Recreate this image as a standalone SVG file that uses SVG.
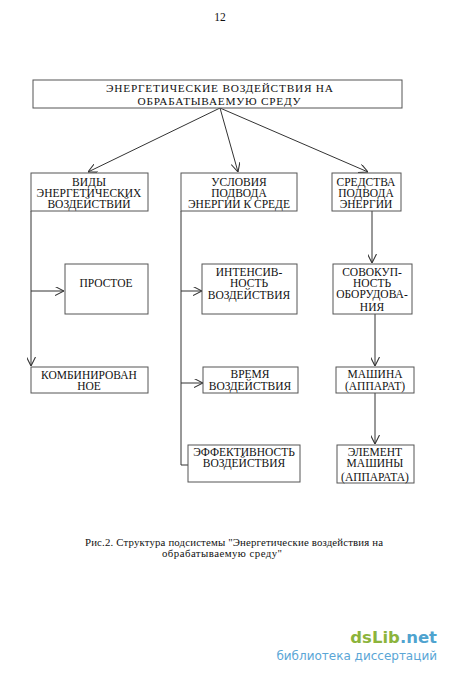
<svg xmlns="http://www.w3.org/2000/svg" width="450" height="675" viewBox="0 0 450 675">
<style>
.b{fill:#fff;stroke:#555;stroke-width:1}
.t{font-family:"Liberation Serif","Times New Roman",serif;font-size:11.5px;fill:#111;text-anchor:middle}
.h{font-size:11.3px}
.c{stroke:#333;stroke-width:1;fill:none}
.cap{font-family:"Liberation Serif","Times New Roman",serif;font-size:10.8px;fill:#111}
</style>
<defs>
<marker id="a" viewBox="0 0 10 10" refX="10" refY="5" markerWidth="9" markerHeight="9" orient="auto" markerUnits="userSpaceOnUse">
<path d="M0,0 L10,5 L0,10" fill="none" stroke="#333" stroke-width="1.2"/>
</marker>
</defs>
<rect width="450" height="675" fill="#fff"/>
<text class="t" x="220" y="21">12</text>
<g id="connectors">
<line class="c" x1="220" y1="108" x2="88" y2="172" marker-end="url(#a)"/>
<line class="c" x1="220" y1="108" x2="238" y2="172" marker-end="url(#a)"/>
<line class="c" x1="220" y1="108" x2="368" y2="172" marker-end="url(#a)"/>
<polyline class="c" points="31,211 31,366" marker-end="url(#a)"/>
<line class="c" x1="31" y1="291" x2="64" y2="291" marker-end="url(#a)"/>
<polyline class="c" points="181,211 181,465 188,465"/>
<line class="c" x1="181" y1="291" x2="202" y2="291" marker-end="url(#a)"/>
<line class="c" x1="181" y1="383" x2="203" y2="383" marker-end="url(#a)"/>
<line class="c" x1="372" y1="211" x2="372" y2="263" marker-end="url(#a)"/>
<line class="c" x1="375" y1="314" x2="375" y2="366" marker-end="url(#a)"/>
<line class="c" x1="375" y1="393" x2="375" y2="444" marker-end="url(#a)"/>
</g>
<g id="root">
<rect class="b" x="33" y="80" width="369" height="28"/>
<text class="t h" x="219.5" y="92" textLength="227" lengthAdjust="spacing">ЭНЕРГЕТИЧЕСКИЕ ВОЗДЕЙСТВИЯ НА</text>
<text class="t h" x="219" y="104.5" textLength="163" lengthAdjust="spacing">ОБРАБАТЫВАЕМУЮ СРЕДУ</text>
</g>
<g id="vidy">
<rect class="b" x="31" y="173" width="117" height="38"/>
<text class="t" x="89" y="186">ВИДЫ</text>
<text class="t" x="89" y="197">ЭНЕРГЕТИЧЕСКИХ</text>
<text class="t" x="89" y="208">ВОЗДЕЙСТВИЙ</text>
</g>
<g id="usloviya">
<rect class="b" x="181" y="173" width="116" height="38"/>
<text class="t" x="239" y="186">УСЛОВИЯ</text>
<text class="t" x="239" y="197">ПОДВОДА</text>
<text class="t" x="239" y="208">ЭНЕРГИИ К СРЕДЕ</text>
</g>
<g id="sredstva">
<rect class="b" x="332" y="173" width="69" height="38"/>
<text class="t" x="366" y="186">СРЕДСТВА</text>
<text class="t" x="366" y="197">ПОДВОДА</text>
<text class="t" x="366" y="208">ЭНЕРГИИ</text>
</g>
<g id="prostoe">
<rect class="b" x="65" y="264" width="83" height="50"/>
<text class="t" x="106" y="287">ПРОСТОЕ</text>
</g>
<g id="kombinirovannoe">
<rect class="b" x="31" y="367" width="117" height="26"/>
<text class="t" x="89" y="379">КОМБИНИРОВАН</text>
<text class="t" x="89" y="390">НОЕ</text>
</g>
<g id="intensivnost">
<rect class="b" x="202" y="264" width="95" height="50"/>
<text class="t" x="249" y="276">ИНТЕНСИВ-</text>
<text class="t" x="249" y="287">НОСТЬ</text>
<text class="t" x="249" y="299">ВОЗДЕЙСТВИЯ</text>
</g>
<g id="vremya">
<rect class="b" x="203" y="367" width="95" height="26"/>
<text class="t" x="250" y="378">ВРЕМЯ</text>
<text class="t" x="250" y="390">ВОЗДЕЙСТВИЯ</text>
</g>
<g id="effektivnost">
<rect class="b" x="188" y="445" width="112" height="37"/>
<text class="t" x="244" y="456">ЭФФЕКТИВНОСТЬ</text>
<text class="t" x="244" y="467">ВОЗДЕЙСТВИЯ</text>
</g>
<g id="sovokupnost">
<rect class="b" x="333" y="264" width="79" height="50"/>
<text class="t" x="372" y="276">СОВОКУП-</text>
<text class="t" x="372" y="287">НОСТЬ</text>
<text class="t" x="372" y="298">ОБОРУДОВА-</text>
<text class="t" x="372" y="311">НИЯ</text>
</g>
<g id="mashina">
<rect class="b" x="336" y="367" width="78" height="26"/>
<text class="t" x="375" y="378">МАШИНА</text>
<text class="t" x="375" y="390">(АППАРАТ)</text>
</g>
<g id="element">
<rect class="b" x="337" y="445" width="77" height="38"/>
<text class="t" x="375" y="456">ЭЛЕМЕНТ</text>
<text class="t" x="375" y="467">МАШИНЫ</text>
<text class="t" x="375" y="481">(АППАРАТА)</text>
</g>
<text class="cap" x="85" y="546" textLength="298" lengthAdjust="spacing">Рис.2. Структура подсистемы "Энергетические  воздействия на</text>
<text class="cap" x="162" y="557" textLength="120" lengthAdjust="spacing">обрабатываемую среду"</text>
<text x="437" y="643" font-family="'DejaVu Sans',sans-serif" font-size="16.5" font-weight="bold" text-anchor="end"><tspan fill="#8cb43c">dsLib</tspan><tspan fill="#4fa3cf">.net</tspan></text>
<text x="437" y="660" font-family="'DejaVu Sans',sans-serif" font-size="12" fill="#5aa6d6" text-anchor="end">библиотека диссертаций</text>
</svg>
